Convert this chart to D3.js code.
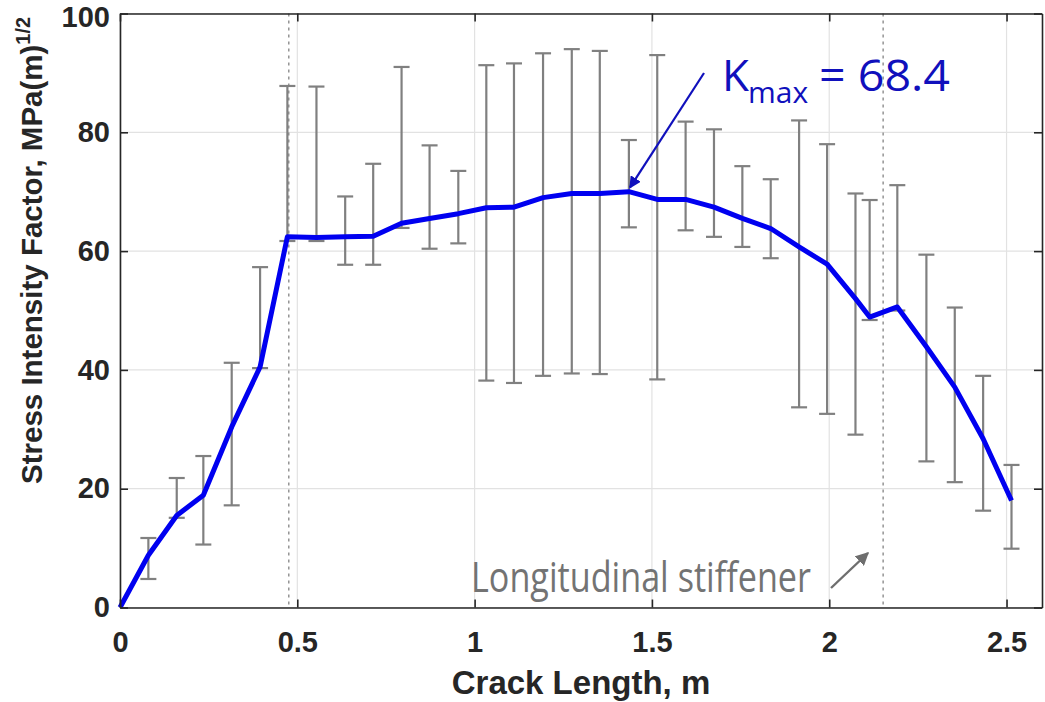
<!DOCTYPE html>
<html>
<head>
<meta charset="utf-8">
<script src="https://cdn.jsdelivr.net/npm/d3@7"></script>
<style>
    body { margin: 0; background: #fff; }
    svg { display: block; }
</style>
</head>
<body>
<script>
// Crack length (m) at each computed step
var crackLen = [0, 0.080, 0.160, 0.235, 0.315, 0.395, 0.472, 0.554, 0.635,
    0.714, 0.794, 0.873, 0.954, 1.033, 1.111, 1.193, 1.274, 1.353, 1.435,
    1.515, 1.595, 1.675, 1.755, 1.835, 1.915, 1.994, 2.074, 2.114, 2.192,
    2.274, 2.354, 2.434, 2.514];

// Stress intensity factor (mean), MPa(m)^1/2
var kMean = [0, 8.8, 15.5, 18.9, 30.4, 40.5, 62.4, 62.3, 62.4, 62.5, 64.7,
    65.5, 66.3, 67.3, 67.4, 69.0, 69.7, 69.7, 70.0, 68.7, 68.7, 67.4, 65.5,
    63.8, 60.7, 57.8, 52.0, 48.9, 50.6, 43.9, 37.1, 28.4, 18.0];

// Error bar ends (null = no bar)
var kHigh = [null, 11.7, 21.8, 25.5, 41.2, 57.3, 87.8, 87.7, 69.2, 74.7,
    91.0, 77.8, 73.5, 91.3, 91.6, 93.3, 94.0, 93.7, 78.7, 93.0, 81.8, 80.5,
    74.3, 72.1, 82.0, 78.0, 69.7, 68.6, 71.1, 59.4, 50.5, 39.0, 24.0];
var kLow = [null, 4.8, 15.1, 10.6, 17.2, 40.3, 61.7, 61.7, 57.7, 57.7,
    63.9, 60.4, 61.3, 38.2, 37.8, 39.0, 39.4, 39.3, 64.0, 38.4, 63.5, 62.4,
    60.7, 58.8, 33.7, 32.6, 29.1, 48.4, 50.0, 24.6, 21.1, 16.3, 9.9];

// Tick values and the two dotted marker positions
var xTicks = [0, 0.5, 1, 1.5, 2, 2.5];
var yTicks = [0, 20, 40, 60, 80, 100];
var dottedAt = [0.476, 2.152];

var W = 1045, H = 702;
var margin = {top: 13.5, right: 3, bottom: 94.5, left: 120};
var width = W - margin.left - margin.right,
    height = H - margin.top - margin.bottom;

var svg = d3.select("body").append("svg")
    .attr("width", W)
    .attr("height", H);

svg.append("rect").attr("width", W).attr("height", H).attr("fill", "#fff");

var defs = svg.append("defs");
function arrowHead(id, color) {
    defs.append("marker")
        .attr("id", id)
        .attr("viewBox", "0 0 10 10")
        .attr("refX", 9).attr("refY", 5)
        .attr("markerWidth", 5.5).attr("markerHeight", 5.5)
        .attr("markerUnits", "strokeWidth")
        .attr("orient", "auto")
        .append("path")
        .attr("d", "M0,0 L10,5 L0,10 Z")
        .attr("fill", color);
}
arrowHead("blueHead", "#1010bc");
arrowHead("grayHead", "#6e6e6e");

var g = svg.append("g")
    .attr("transform", "translate(" + margin.left + "," + margin.top + ")");

var xScale = d3.scaleLinear().domain([0, 2.6]).range([0, width]);
var yScale = d3.scaleLinear().domain([0, 100]).range([height, 0]);

// grid
g.append("g").selectAll("line").data(xTicks).enter().append("line")
    .attr("x1", function (d) { return xScale(d); })
    .attr("x2", function (d) { return xScale(d); })
    .attr("y1", 0).attr("y2", height)
    .attr("stroke", "#e2e2e2").attr("stroke-width", 1.2);
g.append("g").selectAll("line").data(yTicks).enter().append("line")
    .attr("y1", function (d) { return yScale(d); })
    .attr("y2", function (d) { return yScale(d); })
    .attr("x1", 0).attr("x2", width)
    .attr("stroke", "#e2e2e2").attr("stroke-width", 1.2);

// dotted marker lines
g.append("g").selectAll("line").data(dottedAt).enter().append("line")
    .attr("x1", function (d) { return xScale(d); })
    .attr("x2", function (d) { return xScale(d); })
    .attr("y1", 0).attr("y2", height)
    .attr("stroke", "#8c8c8c").attr("stroke-width", 1.4)
    .attr("stroke-dasharray", "3,4");

// error bars
var bars = d3.range(crackLen.length).filter(function (i) {
    return kHigh[i] !== null;
});
var eb = g.append("g").attr("stroke", "#808080").attr("stroke-width", 2.2);
bars.forEach(function (i) {
    var x = xScale(crackLen[i]);
    eb.append("line").attr("x1", x).attr("x2", x)
        .attr("y1", yScale(kHigh[i])).attr("y2", yScale(kLow[i]));
    eb.append("line").attr("x1", x - 8).attr("x2", x + 8)
        .attr("y1", yScale(kHigh[i])).attr("y2", yScale(kHigh[i]));
    eb.append("line").attr("x1", x - 8).attr("x2", x + 8)
        .attr("y1", yScale(kLow[i])).attr("y2", yScale(kLow[i]));
});

// mean curve
var line = d3.line()
    .x(function (d, i) { return xScale(crackLen[i]); })
    .y(function (d) { return yScale(d); });
g.append("path")
    .datum(kMean)
    .attr("d", line)
    .attr("fill", "none")
    .attr("stroke", "#0000f0")
    .attr("stroke-width", 5)
    .attr("stroke-linejoin", "round");

// axes (box with inward ticks)
var fmt = function (d) { return d3.format("")(d); };
var axes = [
    g.append("g").attr("transform", "translate(0," + height + ")")
        .call(d3.axisBottom(xScale).tickValues(xTicks).tickFormat(fmt)
            .tickSizeInner(-8).tickSizeOuter(0).tickPadding(23.5)),
    g.append("g")
        .call(d3.axisTop(xScale).tickValues(xTicks).tickFormat("")
            .tickSizeInner(-8).tickSizeOuter(0)),
    g.append("g")
        .call(d3.axisLeft(yScale).tickValues(yTicks).tickFormat(fmt)
            .tickSizeInner(-8).tickSizeOuter(0).tickPadding(10)),
    g.append("g").attr("transform", "translate(" + width + ",0)")
        .call(d3.axisRight(yScale).tickValues(yTicks).tickFormat("")
            .tickSizeInner(-8).tickSizeOuter(0))
];
axes.forEach(function (a) {
    a.select(".domain").attr("stroke", "#262626").attr("stroke-width", 1.6);
    a.selectAll(".tick line").attr("stroke", "#262626")
        .attr("stroke-width", 1.6);
    a.selectAll("text")
        .attr("fill", "#262626")
        .attr("font-family", "'Liberation Sans', Arial, sans-serif")
        .attr("font-weight", "bold")
        .attr("font-size", "29px");
});
// top label sits a little below its tick, as in the picture
axes[2].selectAll(".tick text")
    .filter(function (d) { return d === 100; })
    .attr("dy", "0.45em");

// axis labels
svg.append("text")
    .text("Crack Length, m")
    .attr("x", margin.left + width / 2)
    .attr("y", 694)
    .attr("text-anchor", "middle")
    .attr("fill", "#262626")
    .attr("font-family", "'Liberation Sans', Arial, sans-serif")
    .attr("font-weight", "bold")
    .attr("font-size", "33px");

var yLab = svg.append("text")
    .attr("transform", "translate(42,484) rotate(-90)")
    .attr("fill", "#262626")
    .attr("font-family", "'Liberation Sans', Arial, sans-serif")
    .attr("font-weight", "bold")
    .attr("font-size", "29.5px");
yLab.append("tspan").text("Stress Intensity Factor, MPa(m)");
yLab.append("tspan").text("1/2")
    .attr("font-size", "20px")
    .attr("dy", "-12");

// K max annotation
var blue = "#1010bc";
svg.append("line")
    .attr("x1", 704).attr("y1", 73)
    .attr("x2", xScale(1.435) + margin.left + 1)
    .attr("y2", yScale(70) + margin.top - 4)
    .attr("stroke", blue).attr("stroke-width", 2.2)
    .attr("marker-end", "url(#blueHead)");
var ann = svg.append("text")
    .attr("fill", blue)
    .attr("font-family", "'Open Sans', sans-serif");
ann.append("tspan").text("K")
    .attr("x", 722).attr("y", 91).attr("font-size", "44px");
ann.append("tspan").text("max")
    .attr("x", 748).attr("y", 103).attr("font-size", "30px");
ann.append("tspan").text("= 68.4")
    .attr("x", 819).attr("y", 91).attr("font-size", "44px")
    .attr("textLength", 131).attr("lengthAdjust", "spacingAndGlyphs");

// stiffener annotation
svg.append("text")
    .text("Longitudinal stiffener")
    .attr("x", 471).attr("y", 592)
    .attr("fill", "#737373")
    .attr("font-family", "'Open Sans', sans-serif")
    .attr("font-size", "42px")
    .attr("textLength", 340)
    .attr("lengthAdjust", "spacingAndGlyphs");
svg.append("line")
    .attr("x1", 831).attr("y1", 588)
    .attr("x2", 868).attr("y2", 553)
    .attr("stroke", "#6e6e6e").attr("stroke-width", 2.4)
    .attr("marker-end", "url(#grayHead)");
</script>
</body>
</html>
